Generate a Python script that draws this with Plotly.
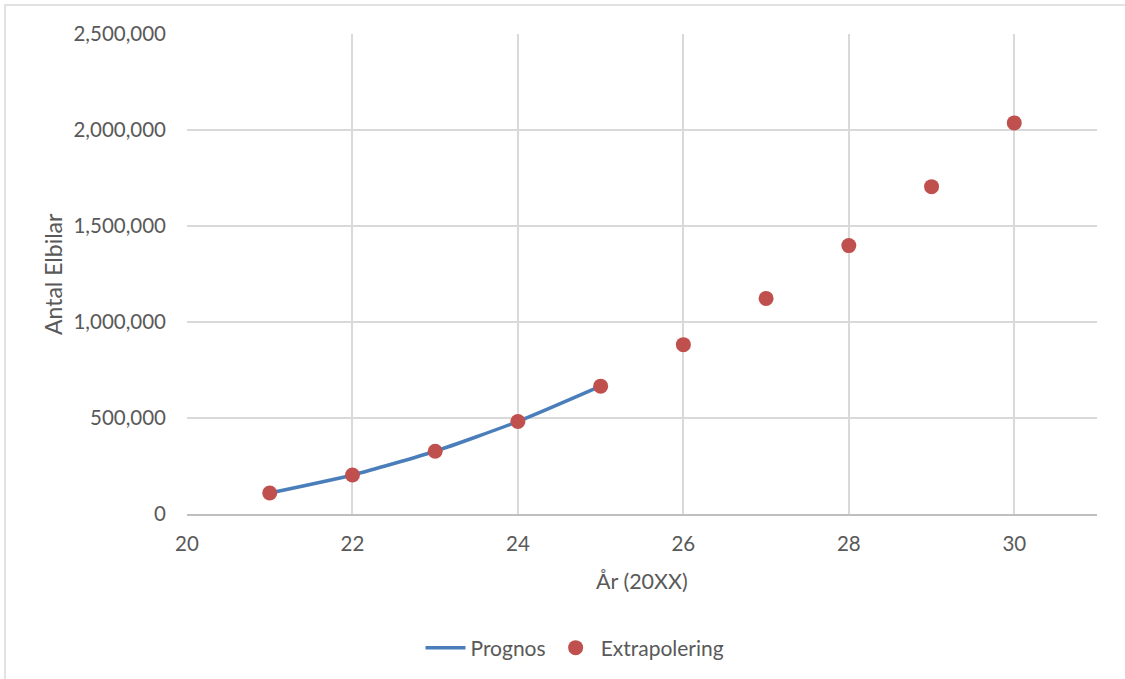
import plotly.graph_objects as go

# Number of electric cars per year (20XX)
years_prognos = [21, 22, 23, 24, 25]
prognos = [109000, 203000, 327000, 482000, 666000]

years_extra = [21, 22, 23, 24, 25, 26, 27, 28, 29, 30]
extrapolering = [109000, 203000, 327000, 482000, 666000, 882000, 1123000, 1398000, 1705000, 2037000]

y_ticks = [0, 500000, 1000000, 1500000, 2000000, 2500000]
x_ticks = [20, 22, 24, 26, 28, 30]

TEXT = "#595959"
GRID = "#D9D9D9"
FONT = "Lato"

fig = go.Figure()
fig.add_trace(go.Scatter(
    x=years_prognos, y=prognos, name="Prognos", mode="lines",
    line=dict(color="#4A7EBB", width=3.5, shape="spline", smoothing=0.6),
))
fig.add_trace(go.Scatter(
    x=years_extra, y=extrapolering, name="Extrapolering", mode="markers",
    marker=dict(color="#C0504D", size=15, line=dict(width=0)),
))

L, R, T, B = 187, 28, 34, 164
W, H = 1125, 679
pw, ph = W - L - R, H - T - B

fig.update_layout(
    width=W, height=H,
    margin=dict(l=L, r=R, t=T, b=B),
    paper_bgcolor="white", plot_bgcolor="white",
    font=dict(family=FONT, color=TEXT, size=20.5),
    showlegend=True,
    legend=dict(
        orientation="h", x=(575 - L) / pw, y=(515 - 648) / ph,
        xanchor="center", yanchor="middle",
        font=dict(size=21, color=TEXT), itemwidth=40,
        bgcolor="rgba(0,0,0,0)",
    ),
    xaxis=dict(
        range=[20, 31], tickvals=x_ticks, showgrid=True, gridcolor=GRID, gridwidth=1.5,
        zeroline=False, showline=True, linecolor="#BFBFBF", linewidth=1.5,
        ticks="", ticklabelstandoff=11, tickfont=dict(size=20.5, color=TEXT),
    ),
    yaxis=dict(
        range=[0, 2500000], tickvals=y_ticks, tickformat=",", showgrid=True,
        gridcolor=GRID, gridwidth=1.5, zeroline=False, showline=False,
        ticks="", ticklabelstandoff=20, tickfont=dict(size=20.5, color=TEXT),
    ),
    shapes=[dict(
        type="rect", xref="paper", yref="paper",
        x0=(5 - L) / pw, x1=(1135 - L) / pw,
        y0=(515 - 700) / ph, y1=(515 - 5) / ph,
        line=dict(color="#D9D9D9", width=1.5), fillcolor="rgba(0,0,0,0)", layer="below",
    )],
    annotations=[
        dict(text="Antal Elbilar", xref="paper", yref="paper",
             x=(53 - L) / pw, y=0.5, textangle=-90, showarrow=False,
             xanchor="center", yanchor="middle", font=dict(size=23, color=TEXT)),
        dict(text="År (20XX)", xref="paper", yref="paper",
             x=0.5, y=(515 - 582) / ph, showarrow=False,
             xanchor="center", yanchor="middle", font=dict(size=21.5, color=TEXT)),
    ],
)

fig.write_html("out.html")
